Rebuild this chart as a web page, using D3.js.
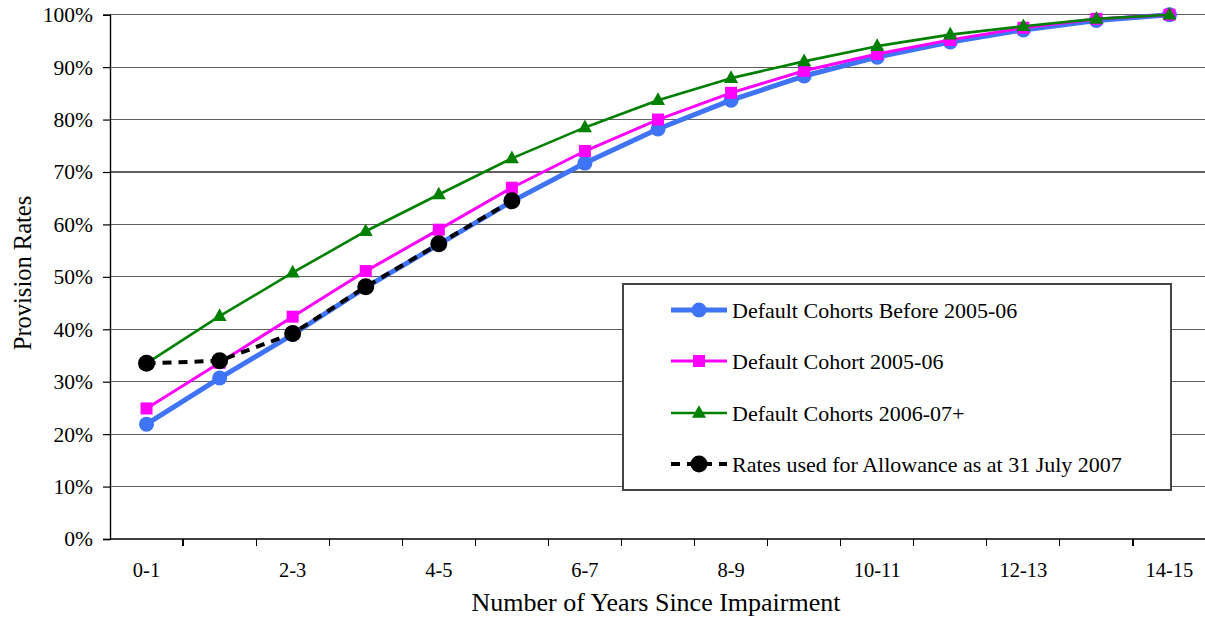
<!DOCTYPE html>
<html>
<head>
<meta charset="utf-8">
<script src="https://cdn.jsdelivr.net/npm/d3@7"></script>
<style>
  html, body { margin: 0; padding: 0; background: #fff; }
  svg text { font-family: "Liberation Serif", "Times New Roman", Times, "DejaVu Serif", serif !important; }
</style>
</head>
<body>
<svg id="chart" width="1205" height="618"></svg>
<script>
// Years-since-impairment buckets
const categories = ["0-1","1-2","2-3","3-4","4-5","5-6","6-7","7-8","8-9","9-10","10-11","11-12","12-13","13-14","14-15"];
const labelledCategories = ["0-1","2-3","4-5","6-7","8-9","10-11","12-13","14-15"];
const yTicks = [0, 0.1, 0.2, 0.3, 0.4, 0.5, 0.6, 0.7, 0.8, 0.9, 1.0];

// Provision rates by cohort
const beforeCohorts = [0.219, 0.307, 0.390, 0.480, 0.562, 0.644, 0.717, 0.782, 0.837, 0.883, 0.919, 0.948, 0.971, 0.989, 1.000];
const cohort2005 = [0.249, 0.336, 0.424, 0.511, 0.590, 0.670, 0.740, 0.800, 0.851, 0.893, 0.925, 0.952, 0.975, 0.992, 1.000];
const cohorts2006 = [0.335, 0.425, 0.508, 0.587, 0.657, 0.726, 0.785, 0.837, 0.879, 0.911, 0.940, 0.962, 0.978, 0.992, 1.000];
const allowanceRates = [0.335, 0.340, 0.392, 0.481, 0.563, 0.645];

const seriesNames = [
  "Default Cohorts Before 2005-06",
  "Default Cohort 2005-06",
  "Default Cohorts 2006-07+",
  "Rates used for Allowance as at 31 July 2007"
];

const series = [
  { name: seriesNames[0], values: beforeCohorts, color: "#3f74f6", width: 5, marker: "circle", size: 7.5, dash: null },
  { name: seriesNames[1], values: cohort2005, color: "#ff00ff", width: 3, marker: "square", size: 12, dash: null },
  { name: seriesNames[2], values: cohorts2006, color: "#008000", width: 2.6, marker: "triangle", size: 14, dash: null },
  { name: seriesNames[3], values: allowanceRates, color: "#000000", width: 4, marker: "circle", size: 8.5, dash: "9,7" }
];

const FONT = "'Liberation Serif', 'Times New Roman', Times, 'DejaVu Serif', serif";
const svg = d3.select("#chart");
const plot = { left: 110, right: 1206, top: 14.7, bottom: 539 };

const x = d3.scaleBand().domain(categories).range([plot.left, plot.right]).padding(0);
const cx = c => x(c) + x.bandwidth() / 2;
const y = d3.scaleLinear().domain([0, 1]).range([plot.bottom, plot.top]);

// Horizontal gridlines
svg.append("g")
  .selectAll("line")
  .data(yTicks.filter(t => t > 0))
  .join("line")
  .attr("x1", plot.left).attr("x2", plot.right)
  .attr("y1", d => y(d)).attr("y2", d => y(d))
  .attr("stroke", "#606060").attr("stroke-width", 1.2)
  .attr("shape-rendering", "crispEdges");

// Y axis
const yAxis = svg.append("g")
  .attr("transform", `translate(${plot.left},0)`)
  .call(d3.axisLeft(y).tickValues(yTicks).tickFormat(d3.format(".0%")).tickSize(7).tickPadding(10))
  .attr("font-family", FONT);
yAxis.select(".domain").attr("stroke", "#000").attr("stroke-width", 1.4);
yAxis.selectAll(".tick line").attr("stroke", "#000").attr("stroke-width", 1.2);
yAxis.selectAll(".tick text")
  .style("font-family", FONT)
  .attr("font-size", 21.5).attr("fill", "#000");

// X axis: ticks on bucket boundaries, every other bucket labelled
const xAxisG = svg.append("g");
xAxisG.append("line")
  .attr("x1", plot.left).attr("x2", plot.right)
  .attr("y1", plot.bottom).attr("y2", plot.bottom)
  .attr("stroke", "#000").attr("stroke-width", 1.6);
xAxisG.selectAll("line.tick")
  .data(categories.slice(1))
  .join("line").attr("class", "tick")
  .attr("x1", d => x(d)).attr("x2", d => x(d))
  .attr("y1", plot.bottom).attr("y2", plot.bottom + 7)
  .attr("stroke", "#000").attr("stroke-width", 1.2)
  .attr("shape-rendering", "crispEdges");
xAxisG.selectAll("text")
  .data(labelledCategories)
  .join("text")
  .attr("x", d => cx(d)).attr("y", 577)
  .attr("text-anchor", "middle")
  .style("font-family", FONT)
  .attr("font-size", 20.5).attr("fill", "#000")
  .text(d => d);

// Axis titles
svg.append("text")
  .attr("x", 656).attr("y", 611)
  .attr("text-anchor", "middle")
  .style("font-family", FONT)
  .attr("font-size", 26).attr("fill", "#000")
  .text("Number of Years Since Impairment");
svg.append("text")
  .attr("transform", "translate(31,273) rotate(-90)")
  .attr("text-anchor", "middle")
  .style("font-family", FONT)
  .attr("font-size", 24.5).attr("fill", "#000")
  .text("Provision Rates");

// Marker drawing helper
function drawMarker(g, s, px, py) {
  if (s.marker === "circle") {
    g.append("circle").attr("cx", px).attr("cy", py).attr("r", s.size).attr("fill", s.color);
  } else if (s.marker === "square") {
    g.append("rect").attr("x", px - s.size / 2).attr("y", py - s.size / 2)
      .attr("width", s.size).attr("height", s.size).attr("fill", s.color);
  } else if (s.marker === "triangle") {
    const h = s.size * 0.9;
    g.append("path")
      .attr("d", `M${px},${py - h * 0.62} L${px + s.size / 2},${py + h * 0.38} L${px - s.size / 2},${py + h * 0.38} Z`)
      .attr("fill", s.color);
  }
}

// Series lines and markers
const line = d3.line().x((d, i) => cx(categories[i])).y(d => y(d));
series.forEach(s => {
  const g = svg.append("g");
  g.append("path")
    .datum(s.values)
    .attr("d", line)
    .attr("fill", "none")
    .attr("stroke", s.color)
    .attr("stroke-width", s.width)
    .attr("stroke-linejoin", "round")
    .attr("stroke-dasharray", s.dash);
  s.values.forEach((v, i) => drawMarker(g, s, cx(categories[i]), y(v)));
});

// Legend
const legend = svg.append("g");
legend.append("rect")
  .attr("x", 623).attr("y", 284).attr("width", 548).attr("height", 206)
  .attr("fill", "#fff").attr("stroke", "#444").attr("stroke-width", 1.2)
  .attr("shape-rendering", "crispEdges");
const legendRows = [310, 361, 413, 464];
series.forEach((s, i) => {
  const ly = legendRows[i];
  legend.append("line")
    .attr("x1", 671).attr("x2", 727).attr("y1", ly).attr("y2", ly)
    .attr("stroke", s.color).attr("stroke-width", s.width)
    .attr("stroke-dasharray", s.dash);
  drawMarker(legend, s, 699, ly);
  legend.append("text")
    .attr("x", 732).attr("y", ly + 8)
    .style("font-family", FONT)
    .attr("font-size", 22).attr("fill", "#000")
    .text(s.name);
});
</script>
</body>
</html>
